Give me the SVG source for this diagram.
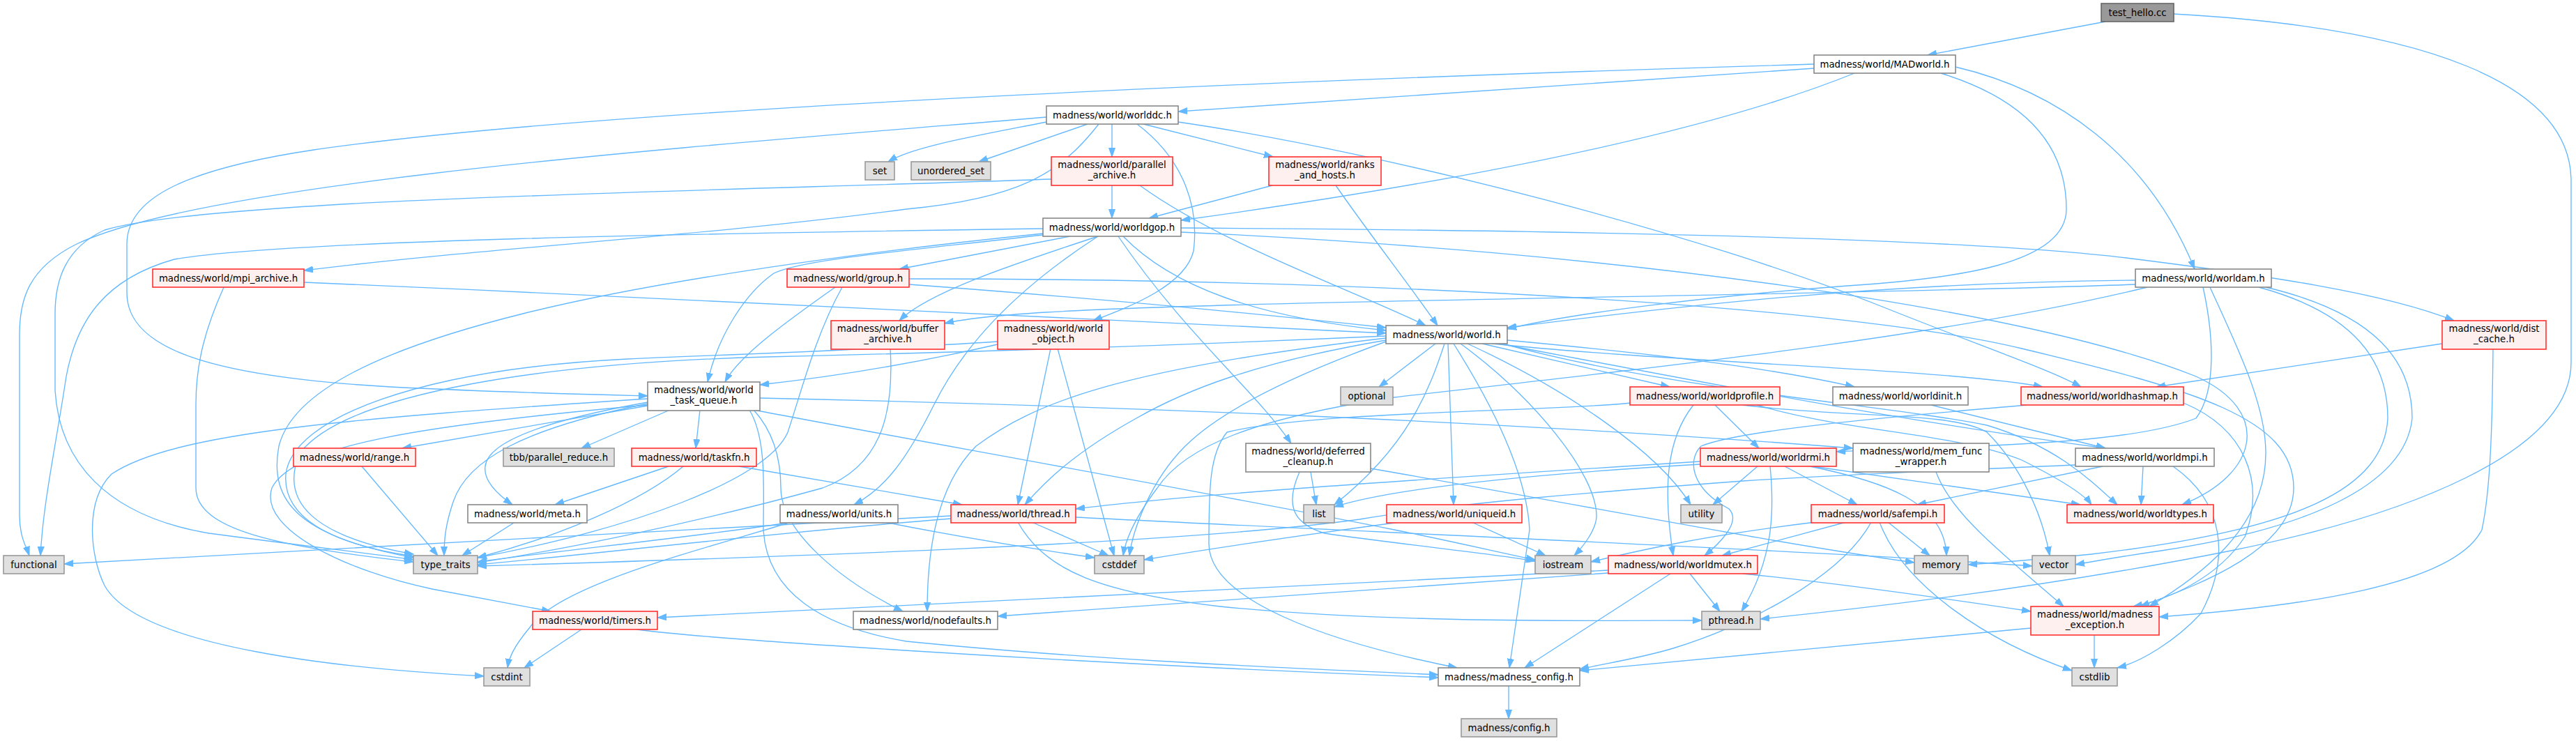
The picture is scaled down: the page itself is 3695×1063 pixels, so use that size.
<svg xmlns="http://www.w3.org/2000/svg" width="3695" height="1063" viewBox="0 0 3695 1063">
<style>
.e{fill:none;stroke:#63b8ff;stroke-width:1.33;marker-end:url(#a)}
.w{fill:#ffffff;stroke:#888888;stroke-width:1.6}
.r{fill:#fff0f0;stroke:#ff3030;stroke-width:1.6}
.g{fill:#e0e0e0;stroke:#999999;stroke-width:1.6}
.c{fill:#999999;stroke:#666666;stroke-width:1.6}
text{font-family:"DejaVu Sans",Verdana,sans-serif;font-size:13.33px;fill:#000;text-anchor:middle}
</style>
<defs>
<marker id="a" markerUnits="userSpaceOnUse" markerWidth="14" markerHeight="10" refX="13" refY="5" orient="auto">
<path d="M0,0.5 L13,5 L0,9.5 z" fill="#63b8ff" stroke="#63b8ff" stroke-width="1"/>
</marker>
</defs>
<rect width="3695" height="1063" fill="#ffffff"/>
<g id="edges">
<path class="e" d="M3020,31 L2765,79"/>
<path class="e" d="M3118,20 C3480,40 3688,120 3688,260 L3688,520 C3688,650 3450,740 3200,790 C2950,840 2700,870 2525,888"/>
<path class="e" d="M2602,98 L1690,160"/>
<path class="e" d="M2602,92 C2000,110 900,150 450,215 C250,245 182,290 182,350 L182,420 C182,500 300,540 560,555 C720,563 850,566 929,568"/>
<path class="e" d="M2660,105 C2450,190 2100,260 1694,316"/>
<path class="e" d="M2784,105 C2930,150 2964,230 2964,300 C2964,380 2800,400 2650,410 C2450,425 2250,450 2162,472"/>
<path class="e" d="M2805,96 C2950,130 3080,220 3148,386"/>
<path class="e" d="M1501,175 C1400,195 1310,210 1274,232"/>
<path class="e" d="M1560,178 L1404,232"/>
<path class="e" d="M1595,178 L1595,225"/>
<path class="e" d="M1640,178 L1826,225"/>
<path class="e" d="M1690,175 C2000,220 2450,340 2700,440 C2850,500 2940,530 2985,555"/>
<path class="e" d="M1631,178 C1700,230 1720,300 1712,360 C1700,410 1620,440 1568,460"/>
<path class="e" d="M1576,178 C1520,250 1460,285 1300,300 C1000,340 700,355 436,388"/>
<path class="e" d="M1501,168 C1000,210 300,260 110,350 C40,385 28,430 28,480 L28,740 C28,770 38,785 42,797"/>
<path class="e" d="M1595,266 L1595,313"/>
<path class="e" d="M1635,266 C1750,350 1950,420 2045,467"/>
<path class="e" d="M1508,257 C1000,275 300,285 150,330 C95,355 79,400 79,450 L79,560 C85,660 150,740 300,765 C450,785 540,795 593,803"/>
<path class="e" d="M1825,266 L1648,313"/>
<path class="e" d="M1916,266 C1960,330 2030,420 2062,467"/>
<path class="e" d="M1496,328 C1000,335 400,345 250,372 C150,400 110,460 95,540 C80,640 62,720 58,797"/>
<path class="e" d="M1496,337 C1300,360 1150,372 1110,392 C1070,420 1030,480 1015,548"/>
<path class="e" d="M1496,335 C1250,360 950,400 750,450 C550,500 420,560 400,640 C385,720 430,770 593,800"/>
<path class="e" d="M1535,339 L1290,386"/>
<path class="e" d="M1575,339 C1450,380 1330,420 1290,460"/>
<path class="e" d="M1575,339 C1450,420 1380,500 1340,580 C1300,660 1270,700 1225,724"/>
<path class="e" d="M1604,339 C1700,480 1800,560 1852,636"/>
<path class="e" d="M1611,339 C1680,410 1800,455 1988,474"/>
<path class="e" d="M1694,327 C2200,330 2800,340 3050,370 C3250,395 3420,420 3520,460"/>
<path class="e" d="M1694,333 C2300,360 2900,440 3150,540 C3260,590 3240,680 3130,724"/>
<path class="e" d="M436,405 C1000,430 1600,455 1988,478"/>
<path class="e" d="M321,412 C295,470 281,520 281,580 L281,700 C281,760 400,785 593,806"/>
<path class="e" d="M1198,412 C1130,460 1060,510 1040,548"/>
<path class="e" d="M1208,412 C1170,480 1150,560 1130,620 C1100,690 900,760 685,800"/>
<path class="e" d="M1304,408 C1600,430 1850,455 1988,470"/>
<path class="e" d="M1304,400 C2000,400 2650,440 2900,500 C3150,560 3290,600 3290,700 C3290,790 3150,840 3070,870"/>
<path class="e" d="M3063,402 C2700,405 2400,440 2162,470"/>
<path class="e" d="M3063,408 C2600,425 1800,430 1500,448 C1420,453 1380,458 1355,464"/>
<path class="e" d="M3080,412 C2800,480 2440,520 2000,570 C1800,600 1700,640 1660,700 C1630,740 1615,770 1611,797"/>
<path class="e" d="M3160,412 C3175,480 3180,560 3150,600 C3050,640 2800,640 2634,648"/>
<path class="e" d="M3170,412 C3210,500 3250,580 3250,650 C3250,760 3150,830 3083,870"/>
<path class="e" d="M3240,412 C3380,450 3425,520 3425,600 C3420,700 3300,760 3000,795 C2900,805 2850,808 2823,810"/>
<path class="e" d="M3250,412 C3410,450 3460,520 3460,600 C3450,700 3300,760 3100,790 C3030,800 3000,806 2977,810"/>
<path class="e" d="M1277,500 C1283,600 1260,670 1180,700 C1000,750 800,790 685,807"/>
<path class="e" d="M1431,494 C1305,523 1200,540 1090,552"/>
<path class="e" d="M1507,500 L1460,724"/>
<path class="e" d="M1517,500 L1598,797"/>
<path class="e" d="M1431,490 C1200,505 1000,510 900,515 C600,530 420,600 410,680 C405,740 470,780 593,798"/>
<path class="e" d="M2059,493 L1978,555"/>
<path class="e" d="M2072,493 C2050,560 2020,640 1914,724"/>
<path class="e" d="M2077,493 L2085,724"/>
<path class="e" d="M2085,493 C2140,580 2190,680 2194,760 L2165,958"/>
<path class="e" d="M2095,493 C2200,570 2290,680 2290,740 C2290,760 2270,785 2258,797"/>
<path class="e" d="M2105,493 C2250,560 2380,650 2425,724"/>
<path class="e" d="M2126,493 L2395,555"/>
<path class="e" d="M2162,488 C2400,510 2550,530 2660,555"/>
<path class="e" d="M2140,493 C2400,520 2800,530 2930,555"/>
<path class="e" d="M2150,493 C2400,540 2700,600 3020,643"/>
<path class="e" d="M2155,493 C2400,560 2700,580 2850,610 C2950,640 3000,690 3037,724"/>
<path class="e" d="M1988,488 C1800,520 1700,560 1630,600 C1540,650 1500,690 1470,724"/>
<path class="e" d="M1988,490 C1850,540 1750,590 1700,640 C1650,690 1625,760 1620,797"/>
<path class="e" d="M1988,485 C1600,530 1480,580 1400,640 C1340,700 1330,800 1330,877"/>
<path class="e" d="M1988,482 C1700,495 1400,505 1100,512 C800,520 500,560 430,650 C400,720 450,770 593,795"/>
<path class="e" d="M3503,493 L3093,555"/>
<path class="e" d="M3576,500 C3575,600 3573,700 3560,760 C3520,840 3300,870 3097,885"/>
<path class="e" d="M929,582 L577,643"/>
<path class="e" d="M961,588 L834,643"/>
<path class="e" d="M1004,588 L998,643"/>
<path class="e" d="M929,577 C800,600 700,630 696,669 C693,690 715,710 735,724"/>
<path class="e" d="M929,579 C750,615 670,660 650,720 C640,750 637,770 637,797"/>
<path class="e" d="M929,572 C500,600 250,620 160,680 C120,720 130,800 150,840 C200,930 500,960 694,970"/>
<path class="e" d="M929,581 C600,610 420,640 390,700 C370,760 500,820 620,845 C700,860 750,870 790,877"/>
<path class="e" d="M1081,588 C1110,620 1120,660 1120,700 C1120,760 1200,830 1295,877"/>
<path class="e" d="M1075,588 C1100,630 1095,700 1095,760 C1100,850 1180,900 1300,920 C1600,950 1900,960 2063,968"/>
<path class="e" d="M1081,588 C1300,630 1700,700 2000,760 C2100,780 2160,795 2202,803"/>
<path class="e" d="M1090,571 C1500,580 2100,600 2658,643"/>
<path class="e" d="M519,669 L628,797"/>
<path class="e" d="M959,669 L796,724"/>
<path class="e" d="M980,669 C920,720 800,770 685,800"/>
<path class="e" d="M1060,669 L1380,724"/>
<path class="e" d="M737,750 L663,797"/>
<path class="e" d="M1137,749 C1000,770 800,790 685,806"/>
<path class="e" d="M1269,749 C1400,775 1500,790 1570,800"/>
<path class="e" d="M1135,749 C1000,790 800,840 760,900 C735,930 730,945 728,958"/>
<path class="e" d="M1364,744 C1100,765 900,790 685,810"/>
<path class="e" d="M1364,740 C1000,760 400,790 92,809"/>
<path class="e" d="M1480,749 L1590,797"/>
<path class="e" d="M1460,749 C1500,820 1580,850 1750,870 C2000,895 2300,890 2441,890"/>
<path class="e" d="M1543,742 C2000,765 2600,790 2915,812"/>
<path class="e" d="M1880,677 L1888,724"/>
<path class="e" d="M1864,677 C1845,720 1850,750 1900,765 C2000,780 2150,795 2202,805"/>
<path class="e" d="M1966,672 C2300,730 2550,780 2746,807"/>
<path class="e" d="M2111,749 L2217,797"/>
<path class="e" d="M2008,749 C1850,770 1750,785 1641,803"/>
<path class="e" d="M2339,578 C2230,590 1880,590 1760,620 C1735,650 1734,700 1734,780 C1734,860 1900,920 2090,958"/>
<path class="e" d="M2429,581 C2390,630 2385,700 2400,797"/>
<path class="e" d="M2460,581 L2523,643"/>
<path class="e" d="M2500,581 C2650,600 2800,590 2850,620 C2900,670 2930,740 2940,797"/>
<path class="e" d="M2520,581 C2650,620 2800,620 2900,660 C2960,690 2990,710 3000,724"/>
<path class="e" d="M2770,581 L3020,643"/>
<path class="e" d="M2907,581 C2750,595 2500,615 2440,640 C2420,660 2425,700 2480,730 C2500,750 2460,785 2445,797"/>
<path class="e" d="M3132,578 C3220,615 3250,690 3220,770 C3180,830 3110,860 3060,870"/>
<path class="e" d="M2439,662 C2000,690 1700,710 1543,730"/>
<path class="e" d="M2439,666 C2200,680 2000,700 1914,727"/>
<path class="e" d="M2521,669 L2457,724"/>
<path class="e" d="M2539,669 C2545,730 2545,800 2498,877"/>
<path class="e" d="M2560,669 L2664,724"/>
<path class="e" d="M2600,669 L2984,724"/>
<path class="e" d="M2596,669 C2700,690 2790,720 2792,797"/>
<path class="e" d="M2777,677 C2800,740 2880,800 2960,870"/>
<path class="e" d="M3016,669 L2750,724"/>
<path class="e" d="M3074,669 L3071,724"/>
<path class="e" d="M3117,669 C3190,720 3200,800 3157,880 C3120,920 3070,950 3037,958"/>
<path class="e" d="M2977,667 C2800,675 2650,680 2500,690 C2300,705 2100,720 1950,745 C1700,780 1100,800 685,812"/>
<path class="e" d="M2604,749 C2440,769 2350,790 2282,806"/>
<path class="e" d="M2648,749 L2470,797"/>
<path class="e" d="M2708,749 L2768,797"/>
<path class="e" d="M2696,749 C2730,840 2850,920 2972,962"/>
<path class="e" d="M2684,749 C2640,830 2500,900 2400,930 C2350,945 2300,952 2266,960"/>
<path class="e" d="M2307,822 L1431,884"/>
<path class="e" d="M2307,818 C1800,845 1200,870 943,886"/>
<path class="e" d="M2424,823 L2467,877"/>
<path class="e" d="M2396,823 L2187,958"/>
<path class="e" d="M2500,823 C2650,838 2800,860 2913,877"/>
<path class="e" d="M834,903 L752,958"/>
<path class="e" d="M913,903 C1000,915 1500,950 2063,972"/>
<path class="e" d="M3004,911 L3004,958"/>
<path class="e" d="M2913,901 C2650,925 2400,950 2266,962"/>
<path class="e" d="M2164,984 L2164,1031"/>
</g>
<g id="test_hello"><rect class="c" x="3014" y="5" width="104" height="26"/><text x="3066" y="22.5">test_hello.cc</text></g>
<g id="MADworld"><rect class="w" x="2602" y="79" width="203" height="26"/><text x="2703.5" y="96.5">madness/world/MADworld.h</text></g>
<g id="worlddc"><rect class="w" x="1501" y="152" width="189" height="26"/><text x="1595.5" y="169.5">madness/world/worlddc.h</text></g>
<g id="set"><rect class="g" x="1241" y="232" width="42" height="26"/><text x="1262" y="249.5">set</text></g>
<g id="unordered_set"><rect class="g" x="1307" y="232" width="114" height="26"/><text x="1364" y="249.5">unordered_set</text></g>
<g id="parallel_archive"><rect class="r" x="1508" y="225" width="174" height="41"/><text x="1595" y="241">madness/world/parallel</text><text x="1595" y="256">_archive.h</text></g>
<g id="ranks_and_hosts"><rect class="r" x="1820" y="225" width="161" height="41"/><text x="1900.5" y="241">madness/world/ranks</text><text x="1900.5" y="256">_and_hosts.h</text></g>
<g id="worldgop"><rect class="w" x="1496" y="313" width="198" height="26"/><text x="1595" y="330.5">madness/world/worldgop.h</text></g>
<g id="mpi_archive"><rect class="r" x="219" y="386" width="217" height="26"/><text x="327.5" y="403.5">madness/world/mpi_archive.h</text></g>
<g id="group"><rect class="r" x="1129" y="386" width="175" height="26"/><text x="1216.5" y="403.5">madness/world/group.h</text></g>
<g id="worldam"><rect class="w" x="3063" y="386" width="195" height="26"/><text x="3160.5" y="403.5">madness/world/worldam.h</text></g>
<g id="buffer_archive"><rect class="r" x="1192" y="460" width="163" height="41"/><text x="1273.5" y="476">madness/world/buffer</text><text x="1273.5" y="491">_archive.h</text></g>
<g id="world_object"><rect class="r" x="1431" y="460" width="160" height="41"/><text x="1511" y="476">madness/world/world</text><text x="1511" y="491">_object.h</text></g>
<g id="world"><rect class="w" x="1988" y="467" width="174" height="26"/><text x="2075" y="484.5">madness/world/world.h</text></g>
<g id="dist_cache"><rect class="r" x="3503" y="460" width="149" height="41"/><text x="3577.5" y="476">madness/world/dist</text><text x="3577.5" y="491">_cache.h</text></g>
<g id="world_task_queue"><rect class="w" x="929" y="548" width="161" height="41"/><text x="1009.5" y="564">madness/world/world</text><text x="1009.5" y="579">_task_queue.h</text></g>
<g id="optional"><rect class="g" x="1923" y="555" width="75" height="26"/><text x="1960.5" y="572.5">optional</text></g>
<g id="worldprofile"><rect class="r" x="2338" y="555" width="215" height="26"/><text x="2445.5" y="572.5">madness/world/worldprofile.h</text></g>
<g id="worldinit"><rect class="w" x="2629" y="555" width="194" height="26"/><text x="2726" y="572.5">madness/world/worldinit.h</text></g>
<g id="worldhashmap"><rect class="r" x="2899" y="555" width="233" height="26"/><text x="3015.5" y="572.5">madness/world/worldhashmap.h</text></g>
<g id="range"><rect class="r" x="421" y="643" width="175" height="26"/><text x="508.5" y="660.5">madness/world/range.h</text></g>
<g id="parallel_reduce"><rect class="g" x="722" y="643" width="159" height="26"/><text x="801.5" y="660.5">tbb/parallel_reduce.h</text></g>
<g id="taskfn"><rect class="r" x="906" y="643" width="179" height="26"/><text x="995.5" y="660.5">madness/world/taskfn.h</text></g>
<g id="deferred_cleanup"><rect class="w" x="1787" y="636" width="179" height="41"/><text x="1876.5" y="652">madness/world/deferred</text><text x="1876.5" y="667">_cleanup.h</text></g>
<g id="worldrmi"><rect class="r" x="2439" y="643" width="195" height="26"/><text x="2536.5" y="660.5">madness/world/worldrmi.h</text></g>
<g id="mem_func_wrapper"><rect class="w" x="2658" y="636" width="195" height="41"/><text x="2755.5" y="652">madness/world/mem_func</text><text x="2755.5" y="667">_wrapper.h</text></g>
<g id="worldmpi"><rect class="w" x="2977" y="643" width="199" height="26"/><text x="3076.5" y="660.5">madness/world/worldmpi.h</text></g>
<g id="meta"><rect class="w" x="671" y="724" width="171" height="26"/><text x="756.5" y="741.5">madness/world/meta.h</text></g>
<g id="units"><rect class="w" x="1119" y="724" width="169" height="26"/><text x="1203.5" y="741.5">madness/world/units.h</text></g>
<g id="thread"><rect class="r" x="1364" y="724" width="179" height="26"/><text x="1453.5" y="741.5">madness/world/thread.h</text></g>
<g id="list"><rect class="g" x="1870" y="724" width="44" height="26"/><text x="1892" y="741.5">list</text></g>
<g id="uniqueid"><rect class="r" x="1989" y="724" width="194" height="26"/><text x="2086" y="741.5">madness/world/uniqueid.h</text></g>
<g id="utility"><rect class="g" x="2411" y="724" width="59" height="26"/><text x="2440.5" y="741.5">utility</text></g>
<g id="safempi"><rect class="r" x="2598" y="724" width="191" height="26"/><text x="2693.5" y="741.5">madness/world/safempi.h</text></g>
<g id="worldtypes"><rect class="r" x="2965" y="724" width="210" height="26"/><text x="3070" y="741.5">madness/world/worldtypes.h</text></g>
<g id="functional"><rect class="g" x="5" y="797" width="87" height="26"/><text x="48.5" y="814.5">functional</text></g>
<g id="type_traits"><rect class="g" x="593" y="797" width="92" height="26"/><text x="639" y="814.5">type_traits</text></g>
<g id="cstddef"><rect class="g" x="1570" y="797" width="71" height="26"/><text x="1605.5" y="814.5">cstddef</text></g>
<g id="iostream"><rect class="g" x="2202" y="797" width="80" height="26"/><text x="2242" y="814.5">iostream</text></g>
<g id="worldmutex"><rect class="r" x="2307" y="797" width="214" height="26"/><text x="2414" y="814.5">madness/world/worldmutex.h</text></g>
<g id="memory"><rect class="g" x="2746" y="797" width="77" height="26"/><text x="2784.5" y="814.5">memory</text></g>
<g id="vector"><rect class="g" x="2915" y="797" width="62" height="26"/><text x="2946" y="814.5">vector</text></g>
<g id="timers"><rect class="r" x="764" y="877" width="179" height="26"/><text x="853.5" y="894.5">madness/world/timers.h</text></g>
<g id="nodefaults"><rect class="w" x="1224" y="877" width="207" height="26"/><text x="1327.5" y="894.5">madness/world/nodefaults.h</text></g>
<g id="pthread"><rect class="g" x="2441" y="877" width="84" height="26"/><text x="2483" y="894.5">pthread.h</text></g>
<g id="madness_exception"><rect class="r" x="2913" y="870" width="184" height="41"/><text x="3005" y="886">madness/world/madness</text><text x="3005" y="901">_exception.h</text></g>
<g id="cstdint"><rect class="g" x="694" y="958" width="66" height="26"/><text x="727" y="975.5">cstdint</text></g>
<g id="madness_config"><rect class="w" x="2063" y="958" width="203" height="26"/><text x="2164.5" y="975.5">madness/madness_config.h</text></g>
<g id="cstdlib"><rect class="g" x="2972" y="958" width="65" height="26"/><text x="3004.5" y="975.5">cstdlib</text></g>
<g id="config"><rect class="g" x="2096" y="1031" width="137" height="26"/><text x="2164.5" y="1048.5">madness/config.h</text></g>
</svg>
